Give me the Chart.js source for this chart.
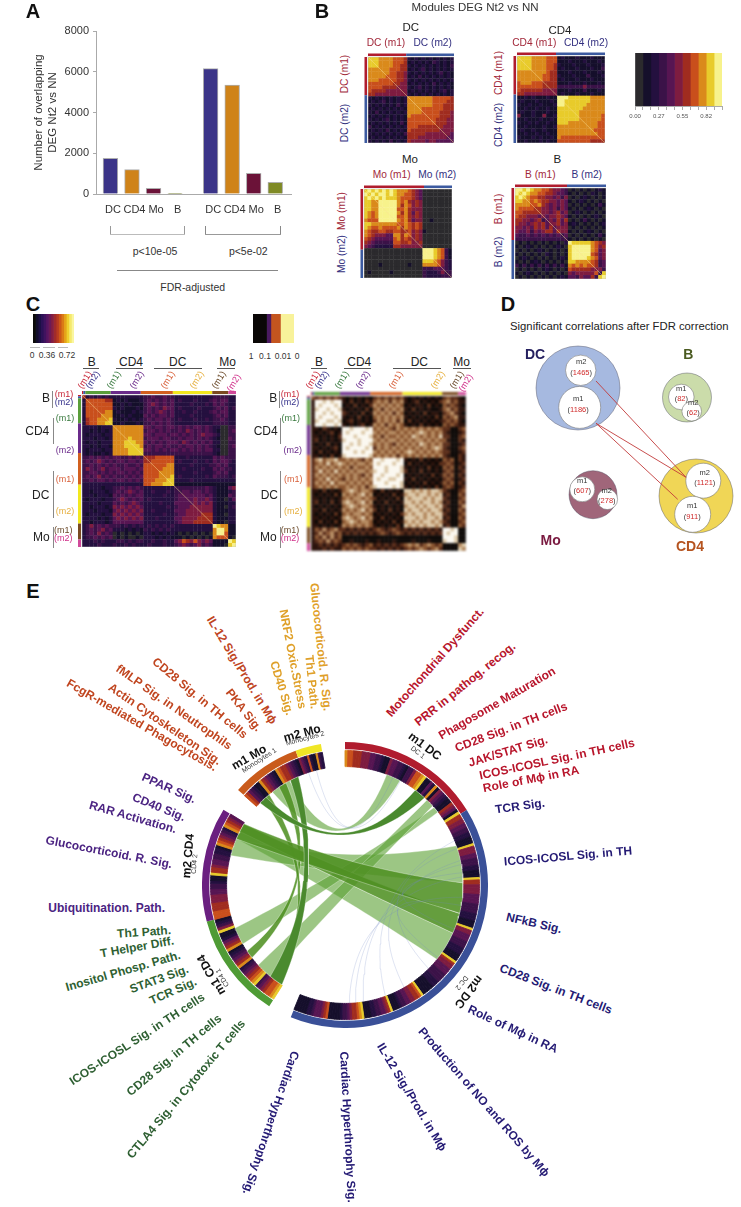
<!DOCTYPE html>
<html>
<head>
<meta charset="utf-8">
<title>Modules DEG Nt2 vs NN</title>
<style>
	html, body { margin: 0; background: #fff; }
	#page { position: relative; width: 741px; height: 1207px; overflow: hidden; font-family: "Liberation Sans", Arial, sans-serif; }
	#page canvas { position: absolute; }
	#page span { position: absolute; white-space: nowrap; transform-origin: center; line-height: 1; }
	#page i { position: absolute; display: block; }
</style>
</head>
<body>
<div id="page"></div>
<script src="https://cdn.jsdelivr.net/npm/chart.js@4.4.0/dist/chart.umd.js"></script>
<script>
// Panel A
const overlapLabels = ["DC", "CD4", "Mo", "B", "DC", "CD4", "Mo", "B"];
const overlapSlots = [0.67, 1.67, 2.67, 3.67, 5.32, 6.32, 7.32, 8.32];
const overlapValues = [1750, 1200, 280, 15, 6150, 5350, 1020, 570];
const overlapColors = ["#3b3488", "#cf8319", "#6b1238", "#7f8a25", "#3b3488", "#cf8319", "#6b1238", "#7f8a25"];

// heat palette, level 0-a
const inferno = ["#2b2a2d", "#150f2b", "#24103f", "#3b1248", "#571552", "#7e1c40", "#a02c1f", "#c94f1c", "#da8a1b", "#e8cb2b", "#f7f28c"];
const inkPalette = ["#0c0806", "#2c130c", "#5a2c18", "#8a5530", "#b58a60", "#dcc8a8", "#fbf8f0"];

// Panel B matrices, one char per cell
const dcRows = [
"99988887776 2121212121212","99988887776 1212121321212","99988887766 2121212121213","88888877766 1212312121212",
"88888877665 2121212123121","88888777665 1213121212121","88877777665 2121212121212","77777776655 1212121312121",
"77776666555 2123121212121","76666555555 1212121212312","66555555555 2121212121212",
"21212121212 8888888777776","12123121212 8888888777766","21212121312 8888888777666","12121212121 8888777777666",
"21312121212 8888777776665","12121212121 8777777776665","21212312121 7777777766655","12121212131 7777777766655",
"31212121212 7776666666555","12121312121 7666666665555","21212121213 6666655555554","12121212121 6665555555544","21212131212 6555545544444"];
const cd4Rows = [
"99998888777 1211121112111","99998888777 1112111211121","99998888776 2111211121112","99998888776 1211121112113",
"88888888766 1112111211121","88888887766 2111211131112","88888887766 1211121112111","78887776666 1112111211121",
"77777776666 3333333533333","76666665555 1112111311121","66555555555 1211121112111",
"11212111211 aaa9999998888","12111211121 aa99999998888","21121121112 aa99999988888","11211211211 9999999888888",
"12112111211 9999998888888","51112115112 9999998888887","11211121121 9999998888887","21121211211 9998888888877",
"11211112112 8888888888877","12112112111 8888888888777","11211211211 8888888888877","21112121121 8777777777777","11211121211 7777777776666"];
const moRows = [
"9a9a9a9a98887654 00000000","a9a9aa9a98877654 00000000","9a9a9a9998777654 00000000","9988aaaaa8786565 00000000",
"9988aaaaa8687565 00000000","9988aaaaa7786555 00000000","9878aaaaa8686465 00000000","9878aaaaa7786565 00000000",
"8777aaaaa8786455 00100000","9988888887787676 00000000","9877877778687676 00000000","8766776677667565 10000000",
"8765554488687565 00000000","7654444478676565 00000000","6543333377667556 00000000","5432222266555555 00000000",
"0000000000000000 aaa98731","0000000000000000 aaa98731","0000000000000000 aaa98731","0000000000000000 99987532",
"0000100000001000 88887532","0000000000000000 33344432","0100000100000000 32223533","0000000000000000 32222333"];
const bRows = [
"aa9a9887765543 0101010121","a9a98877665443 1010102101","9a987766554535 0101210101","99887876655454 1012101010",
"88887786545454 0101010131","87777665545354 1010121010","77666665545645 0121010101","76655545455654 1010101210",
"66554563454646 0101310101","65545656455645 1210101012","55454656464555 0101010101","54453545664655 1010121010",
"43343434343434 0101010131","33333333333333 1010101010",
"01010101010102 a999998765","10121010101210 9aaaaa8756","01010121010101 9aaaaa8745","10101010210101 9aaaaa7645",
"01210101010121 9aaaa98745","10101210101010 9988887634","31313131313131 8787877634","01010101210101 7666665553",
"10121010101010 5455555739","01010101010121 443544639a"];

// Panel C matrices
const allCellsRows = [
"6 2323232 22222222 33433433 2222222222 3333 22",
"2 7777766 12121112 34343434 2322232223 4344 22","2 7777777 11212111 34543434 2222322232 4343 22",
"2 7777777 21211121 34343544 2322223222 3434 23","2 7777788 12111212 34345434 2232232223 4344 22",
"2 7777888 11212111 43434434 2222322222 3434 22","2 6778889 21121212 34344343 2322232232 3343 22",
"2 6778899 11211121 33434343 2222222222 3333 22",
"2 2221222 88888888 44344344 3434344343 2200 33","2 2121212 88888888 34434343 3435434343 2100 34",
"2 1222122 88888888 44344434 4343434544 3200 33","2 2212212 88889888 34443443 3434434343 2100 43",
"2 1221222 88899988 43434344 4354343434 2200 33","2 2121221 88899998 34344343 3434434343 2100 34",
"2 1222122 88889999 44343434 4343434344 2200 33","2 1211212 88889999 33333333 3333333333 2100 33",
"3 3434343 44334343 66677777 2223222222 4343 33","3 4345434 34434434 66777777 2322232232 4344 32",
"3 3434343 43343343 77777788 2222322223 3434 22","3 5434534 44344434 77777888 2232222322 4343 32",
"3 3443434 34434343 77778888 2222232222 3434 22","3 4345343 43343434 77778889 2322222232 4333 23",
"3 3434434 34434343 77788899 2222322222 2222 22","2 2222222 22222222 77888999 1111111111 1111 11",
"2 2222122 33434343 22222222 3333333343 2111 45","2 2122212 34345434 22322232 3344344343 2111 23",
"2 2212221 43434344 22222322 3444444434 2111 43","2 1222122 34543434 23222222 3444454454 2110 24",
"2 2221222 43434543 22223222 4444454545 2111 22","2 2122212 54545454 22222232 3444555555 2110 23",
"2 2212221 45454545 22322222 4445555555 2111 22","2 1222122 54545454 22222322 3445555666 2110 22",
"2 2221212 45454545 22232222 4455556666 2111 22","2 2122212 44444444 22222222 3455566666 2110 22",
"2 3534343 33232323 23232323 2222222222 a988 11","2 3434534 22212121 32323232 2222222222 8aa8 11",
"2 3435343 01010101 22121212 1010101010 8aa7 11","2 3343434 01010010 22212121 1101010101 8777 10",
"2 2232322 23323233 22322322 4576575454 1111 a9","2 2223222 32232322 23222322 3454345343 1110 9a"];
const pValueRows = [
"3 2323232 10101010 23232323 1010101010 2322 10",
"1 6656566 10201021 34342434 1012010102 3423 11","1 6566656 01020102 43434343 0101102010 3232 10",
"1 5665665 10101020 34243434 1020101001 3423 11","1 6656566 21010201 43434243 0101020110 2342 10",
"1 6566656 10102010 34343434 1010101020 3234 11","1 5665565 01201010 24343424 0201010101 2323 10",
"1 6656656 10101201 43424343 1010201010 3232 11",
"1 1021010 66566656 34343243 4343434343 2200 23","1 0101201 65666566 43434434 3434543434 2100 12",
"1 1010102 66656665 34243343 4354343435 2200 23","1 2010101 56665666 43434434 3434434343 3100 21",
"1 0102010 66565665 34343243 4343543434 2200 12","1 1010120 65666656 24343434 3434343454 2100 23",
"1 0201010 66656566 43434343 4543434343 2200 12","1 1010201 56666665 34343424 3434343434 2100 21",
"2 4534453 34343243 66566656 1010201010 3230 21","2 3435345 43434434 65666566 0201010102 2320 12",
"2 4343434 34243343 66656665 1010102010 3230 21","2 3534353 43434434 56656665 2010201010 2320 12",
"2 4343434 34343243 66566656 0101010201 3230 21","2 3435343 24343434 65665566 1020101010 2320 12",
"2 4343534 43434343 66656665 0101020101 3230 21","2 3434343 34343424 56666565 1010101020 2320 12",
"1 1020101 34543443 10201010 5545454554 2100 23","1 0101020 43434534 01010201 4554554545 1200 32",
"1 1010101 34344343 20101020 5455545455 2100 23","1 2010201 45434534 01020101 5545455454 1200 32",
"1 0101010 34543443 10101010 4554545545 2100 24","1 1020101 43434534 20102010 5455454554 1200 32",
"1 0101020 34344343 01010102 4545545455 2100 23","1 1010101 45434534 10201010 5554545545 1200 32",
"1 0201020 34543443 01010201 4545455454 2100 23","1 1010101 43434343 10101020 5454545545 1200 32",
"1 3242342 21212121 23212321 2121212121 6656 00","1 2423423 12121212 12321232 1212121212 6566 00",
"1 3242423 00000000 00000000 0000000000 6665 00","1 2324232 00100010 01000100 0010001000 5665 00",
"1 1212121 23232123 12121212 3434234323 0000 45","1 1121211 32323232 21212121 2323432342 0000 54"];
const allCellsSizes = [4, 6, 76, 90, 96, 118, 48, 23];
const allCellsColors = ["#c8202c", "#3a5aa8", "#5a9e3a", "#6a2a8a", "#d2601f", "#f2e81e", "#7a4a20", "#d04a9a"];
const pairColors = ["#b01c2e", "#3c5aa0"];

// colour keys
const keyLevels = [0, 1, 2, 3, 4, 5, 6, 7, 8, 9, 10];
const keyTickLabels = ["0.00", "", "", "0.27", "", "", "0.55", "", "", "0.82", "", ""];
const wideKeyColors = ["#0b0a0a", "#120d2b", "#1c0f45", "#2c1156", "#40135f", "#571561", "#6c1a55", "#861f40", "#a02b2b", "#b83b1f", "#cc5619", "#da7a16", "#e5a41a", "#eecf2e", "#f5e96c", "#faf6a0"];
const pKeySizes = [41, 13, 29, 41];
const pKeyColors = ["#0a0706", "#4a1a60", "#c4551f", "#f8f29a"];

// Panel D
const cellGroupX = [578, 687, 593, 696];
const cellGroupY = [388, 397.5, 494.7, 496];
const cellGroupR = [42, 24.5, 24, 37];
const cellGroupColors = ["#a6b9e0", "#cbdcaa", "#a0667a", "#f0d656"];
const moduleX = [580.7, 579.7, 681.3, 691.7, 582.3, 607.3, 703.3, 692.7];
const moduleY = [370.3, 407.4, 397, 411.3, 489.3, 499.3, 480.7, 514.3];
const moduleR = [15.2, 21, 12.8, 9.8, 12.5, 10.3, 17.5, 18];
const moduleNames = ["m2", "m1", "m1", "m2", "m1", "m2", "m2", "m1"];
const moduleCounts = ["1465", "1186", "82", "62", "607", "278", "1121", "911"];
const linkStarts = [[596, 381], [596, 423.3], [596, 423.3]];
const linkEnds = [[686, 477.3], [686, 477.3], [677.7, 499.3]];

// Panel E, angles in degrees clockwise from top
const ringArcs = [58.4, 143.9, 9.7, 43.2, 46.6, 9.8, 28.2, 10.5, 9.7];
const ringColors = ["#b01c2e", "#3a5098", "transparent", "#4f9b35", "#6a1f80", "transparent", "#c95b1c", "#f0e626", "transparent"];
const ringHeat = [
	"8776665554433211" + "5443321" + "3357789" + "114281" + "543211" + "65419",
	"66554433221119" + "55544333221119" + "665555444433332221119" + "554443332221119" + "6554443333222111119" + "7665544332111" + "965443322111" + "987665433211111" + "76544432211111",
	"",
	"98776543" + "98765432" + "8654321" + "8654211" + "95321",
	"7776665554433211" + "9" + "6654433221" + "8" + "765432" + "87654",
	"",
	"7643211" + "8654321" + "876654321",
	"5432" + "7211" + "832",
	""
];
const ribbonFrom = [[20.7, 27.8], [36.5, 42.4], [44, 48], [49, 52], [70.6, 89], [89, 103.8], [104, 114], [114, 129], [212.3, 219.3], [214, 218], [232, 236]];
const ribbonTo = [[322, 332], [314, 318], [219.3, 227.3], [240, 248.6], [284.5, 293], [293, 301.2], [297, 301], [293, 297], [332.4, 336.7], [316, 320], [326, 330]];
const ribbonTones = ["light", "dark", "light", "light", "light", "mid", "mid", "light", "dark", "mid", "mid"];
const threadFrom = [342, 346, 171, 175, 150, 135, 160, 178, 128, 84];
const threadTo = [28, 24, 78, 86, 80, 72, 68, 96, 100, 112];

Chart.defaults.font.family = '"Liberation Sans", Arial, sans-serif';
Chart.defaults.animation = false;
Chart.defaults.responsive = false;
Chart.defaults.events = [];
Chart.defaults.plugins.legend.display = false;
Chart.defaults.plugins.tooltip.enabled = false;

let page = document.getElementById("page");

function addCanvas(x, y, w, h, blur) {
	let c = document.createElement("canvas");
	c.width = w;
	c.height = h;
	c.style.left = x + "px";
	c.style.top = y + "px";
	c.style.width = w + "px";
	c.style.height = h + "px";
	if (blur) c.style.filter = "blur(" + blur + "px)";
	page.appendChild(c);
	return c.getContext("2d");
}

function addText(text, x, y, size, color, rot, bold) {
	let s = document.createElement("span");
	s.textContent = text;
	s.style.left = x + "px";
	s.style.top = y + "px";
	s.style.fontSize = size + "px";
	s.style.color = color;
	s.style.transform = "translate(-50%,-50%) rotate(" + (rot || 0) + "deg)";
	if (bold) s.style.fontWeight = "bold";
	page.appendChild(s);
	return s;
}

function addRule(x1, y1, x2, y2, color) {
	let d = document.createElement("i");
	d.style.left = x1 + "px";
	d.style.top = y1 + "px";
	d.style.width = Math.max(x2 - x1, 1) + "px";
	d.style.height = Math.max(y2 - y1, 1) + "px";
	d.style.background = color;
	page.appendChild(d);
}

// Heatmap from level rows, with the module strips along top and left
function heatmap(rows, palette, x, y, w, h, sizes, stripColors, stripWidth, withDiagonal, blur) {
	let cells = rows.map((r) => r.replace(/ /g, ""));
	let n = cells.length;
	let points = [];
	let colors = [];
	cells.forEach((row, r) => {
		for (let c = 0; c < row.length; c++) {
			points.push({x: c + 0.5, y: r + 0.5});
			colors.push(palette[parseInt(row[c], 16)]);
		}
	});
	let total = sizes.reduce((a, b) => a + b, 0);
	let strips = {
		id: "strips",
		afterDraw(chart) {
			let ctx = chart.ctx;
			let area = chart.chartArea;
			let run = 0;
			sizes.forEach((size, i) => {
				let x0 = chart.scales.x.getPixelForValue(n * run / total);
				let x1 = chart.scales.x.getPixelForValue(n * (run + size) / total);
				let y0 = chart.scales.y.getPixelForValue(n * run / total);
				let y1 = chart.scales.y.getPixelForValue(n * (run + size) / total);
				ctx.fillStyle = stripColors[i];
				ctx.fillRect(x0, area.top - 1 - stripWidth, x1 - x0, stripWidth);
				ctx.fillRect(area.left - 1 - stripWidth, y0, stripWidth, y1 - y0);
				run += size;
			});
			ctx.strokeStyle = "rgba(190,190,190,.8)";
			ctx.lineWidth = 0.7;
			ctx.strokeRect(area.left, area.top, area.right - area.left, area.bottom - area.top);
		}
	};
	let cellPx = Math.max(w, h) / n;
	let datasets = [{
		data: points,
		pointStyle: "rect",
		pointRadius: cellPx / Math.SQRT2 + 0.25,
		pointBackgroundColor: colors,
		pointBorderWidth: 0,
		order: 2
	}];
	if (withDiagonal) {
		datasets.push({
			data: [{x: 0, y: 0}, {x: n, y: n}],
			showLine: true,
			pointRadius: 0,
			borderColor: "rgba(250,225,150,.6)",
			borderWidth: 0.8,
			order: 1
		});
	}
	return new Chart(addCanvas(x - 4, y - 4, w + 4, h + 4, blur), {
		type: "scatter",
		data: {datasets: datasets},
		options: {
			layout: {autoPadding: false, padding: {left: 4, top: 4}},
			scales: {
				x: {display: false, min: 0, max: n},
				y: {display: false, min: 0, max: n, reverse: true}
			}
		},
		plugins: [strips]
	});
}

// Colour key as one stacked bar
function colorKey(x, y, w, h, sizes, colors, tickLabels) {
	let total = sizes.reduce((a, b) => a + b, 0);
	let margin = tickLabels ? 12 : 0;
	return new Chart(addCanvas(x - margin, y, w + margin * 2, tickLabels ? h + 20 : h), {
		type: "bar",
		data: {
			labels: [""],
			datasets: sizes.map((v, i) => ({data: [v], backgroundColor: colors[i], barPercentage: 1, categoryPercentage: 1, borderWidth: 0}))
		},
		options: {
			indexAxis: "y",
			layout: {padding: {left: margin, right: margin}},
			scales: {
				y: {display: false, stacked: true},
				x: {
					display: !!tickLabels,
					stacked: true,
					min: 0,
					max: total,
					border: {color: "#aaa"},
					grid: {drawOnChartArea: false, tickLength: 4, color: "#aaa"},
					ticks: {
						stepSize: 1,
						autoSkip: false,
						maxRotation: 0,
						padding: 3,
						color: "#555",
						font: {size: 6},
						callback: (v, i) => tickLabels ? tickLabels[i] : ""
					},
					afterFit(scale) { if (tickLabels) scale.height = 20; }
				}
			}
		}
	});
}

// Panel A
new Chart(addCanvas(0, 0, 300, 222), {
	type: "bar",
	data: {datasets: [{
		data: overlapValues.map((v, i) => ({x: overlapSlots[i], y: v})),
		backgroundColor: overlapColors,
		borderColor: "rgba(165,165,165,.9)",
		borderWidth: 1,
		barThickness: 14.7
	}]},
	options: {
		layout: {padding: {left: 32, right: 9, top: 31}},
		scales: {
			x: {
				type: "linear",
				offset: false,
				min: 0,
				max: 9.05,
				grid: {display: false},
				border: {color: "#aaa"},
				afterBuildTicks(scale) { scale.ticks = overlapSlots.map((v) => ({value: v})); },
				ticks: {
					autoSkip: false,
					maxRotation: 0,
					padding: 1,
					labelOffset: 2.5,
					color: "#333",
					font: {size: 11},
					callback: (v, i) => overlapLabels[i]
				},
				afterFit(scale) { scale.height = 28; }
			},
			y: {
				min: 0,
				max: 8000,
				grid: {drawOnChartArea: false, tickLength: 3, color: "#aaa"},
				border: {color: "#aaa"},
				title: {display: true, text: ["Number of overlapping", "DEG Nt2 vs NN"], color: "#333", font: {size: 11.5, lineHeight: 1.2}, padding: 0},
				ticks: {stepSize: 2000, padding: 4, color: "#333", font: {size: 11}, callback: (v) => String(v)},
				afterFit(scale) { scale.width = 64; }
			}
		}
	}
});
addRule(109.5, 226, 110.5, 234, "#999");
addRule(184, 226, 185, 234, "#999");
addRule(110, 234, 185, 235, "#bbb");
addRule(205, 226, 206, 234, "#888");
addRule(280, 226, 281, 234, "#888");
addRule(205, 233.5, 281, 234.5, "#999");
addRule(117, 270, 278, 271, "#888");
addText("p<10e-05", 155, 250.7, 10.5, "#333");
addText("p<5e-02", 248.3, 250.7, 10.5, "#333");
addText("FDR-adjusted", 192.7, 287.3, 10.5, "#333");

// Panel letters
addText("A", 33, 11, 20, "#111", 0, true);
addText("B", 322, 11, 20, "#111", 0, true);
addText("C", 33, 304, 20, "#111", 0, true);
addText("D", 508, 304, 20, "#111", 0, true);
addText("E", 33, 591, 20, "#111", 0, true);

// Panel B
heatmap(dcRows, inferno, 368, 57, 86, 86, [115, 144], pairColors, 2.5, true, 0.55);
heatmap(cd4Rows, inferno, 517, 56, 88, 87, [117, 147], pairColors, 2.5, true, 0.55);
heatmap(moRows, inferno, 364, 189, 88, 89, [180, 84], pairColors, 2.5, true, 0.55);
heatmap(bRows, inferno, 515, 188, 91, 91, [156, 117], pairColors, 2.5, true, 0.55);
colorKey(635, 53, 87, 53, keyLevels.map(() => 1), inferno, keyTickLabels);

const wine = "#a2283a";
const indigo = "#333080";
addText("Modules DEG Nt2 vs NN", 475, 7.5, 11.5, "#333");
addText("DC", 410.7, 28, 11.5, "#222");
addText("DC (m1)", 386, 43.3, 10.2, wine);
addText("DC (m2)", 432.7, 43.3, 10.2, indigo);
addText("DC (m1)", 344.7, 74, 10.2, wine, -90);
addText("DC (m2)", 344.7, 122.7, 10.2, indigo, -90);
addText("CD4", 560, 31, 11.5, "#222");
addText("CD4 (m1)", 534.3, 43.3, 10.2, wine);
addText("CD4 (m2)", 586, 43.3, 10.2, indigo);
addText("CD4 (m1)", 499, 73, 10.2, wine, -90);
addText("CD4 (m2)", 499, 125, 10.2, indigo, -90);
addText("Mo", 410, 160.3, 11.5, "#222");
addText("Mo (m1)", 391.7, 175.3, 10.2, wine);
addText("Mo (m2)", 437.3, 175.3, 10.2, indigo);
addText("Mo (m1)", 341.7, 210.7, 10.2, wine, -90);
addText("Mo (m2)", 341.7, 254, 10.2, indigo, -90);
addText("B", 557.3, 160, 11.5, "#222");
addText("B (m1)", 540.3, 175.3, 10.2, wine);
addText("B (m2)", 586.7, 175.3, 10.2, indigo);
addText("B (m1)", 499, 209.3, 10.2, wine, -90);
addText("B (m2)", 499, 251.7, 10.2, indigo, -90);

// Panel C
heatmap(allCellsRows, inferno, 82, 395, 154, 152, allCellsSizes, allCellsColors, 3, true, 0.55);
heatmap(pValueRows, inkPalette, 311, 396, 155, 155, allCellsSizes, allCellsColors, 3, false, 0.9);
colorKey(33, 314, 41, 29, wideKeyColors.map(() => 1), wideKeyColors);
colorKey(253, 314, 41, 29, pKeySizes, pKeyColors);
addRule(30, 347, 40, 348, "#bbb");
addRule(43, 347, 55, 348, "#bbb");
addRule(58, 347, 68, 348, "#bbb");
addText("0", 32, 355, 8.5, "#333");
addText("0.36", 47, 355, 8.5, "#333");
addText("0.72", 67, 355, 8.5, "#333");
addText("1", 251, 356, 8.5, "#333");
addText("0.1", 265, 356, 8.5, "#333");
addText("0.01", 283, 356, 8.5, "#333");
addText("0", 297, 356, 8.5, "#333");

const red = "#c8283a", navy = "#34308a", green = "#3a7a3f", violet = "#6a2a8a", rust = "#d8603a", gold = "#e6b040", brown = "#6b4a2a", pink = "#d0308a";
function panelCLabels(groupX, ruleSpans, topX, sideX, sideRule, sideName) {
	["B", "CD4", "DC", "Mo"].forEach((g, i) => {
		addText(g, groupX[i], 361.7, 12, "#222");
		addRule(ruleSpans[i][0], 368, ruleSpans[i][1], 369, "#555");
	});
	[red, navy, green, violet, rust, gold, brown, pink].forEach((c, i) => {
		addText(i % 2 ? "(m2)" : "(m1)", topX[i], i == 7 ? 383 : 380, 9, c, -58);
	});
	let sideY = [394, 402.3, 417.7, 449.7, 479.3, 510.7, 530.3, 538.3];
	[red, navy, green, violet, rust, gold, brown, pink].forEach((c, i) => {
		addText(i % 2 ? "(m2)" : "(m1)", sideX[i], sideY[i], 9, c);
	});
	addText("B", sideName[0], 398.3, 12, "#222");
	addText("CD4", sideName[1], 431, 12, "#222");
	addText("DC", sideName[2], 495, 12, "#222");
	addText("Mo", sideName[3], 536.7, 12, "#222");
	addRule(sideRule, 391, sideRule + 1, 408, "#888");
	addRule(sideRule + 1, 418, sideRule + 2, 444, "#888");
	addRule(sideRule + 1, 471, sideRule + 2, 518, "#888");
	addRule(sideRule + 1, 527, sideRule + 2, 548, "#888");
}
panelCLabels([91.7, 131, 177.7, 227.7], [[82.7, 99], [115.7, 143.3], [154.3, 202], [216.7, 235.3]],
	[85, 93.3, 114, 136.7, 168.3, 197.3, 219, 234.3], [64, 64, 65, 65, 65, 65, 63.3, 63.3], 51.5, [46, 37.3, 40.7, 41.3]);
panelCLabels([319, 359.3, 419.3, 461.7], [[310.7, 326.7], [344, 371.3], [393.3, 440.7], [453.3, 470.7]],
	[312.7, 321.7, 341.7, 363.3, 395.7, 438.3, 457.3, 466], [290, 290, 290.7, 292.7, 293.3, 293.3, 290, 290], 278.5, [273.3, 265.7, 269.3, 268.3]);

// Panel D
const linkData = linkStarts.map((p, i) => ({
	type: "line",
	data: [{x: p[0], y: p[1]}, {x: linkEnds[i][0], y: linkEnds[i][1]}],
	borderColor: "#c23a3a",
	borderWidth: 0.9,
	pointRadius: 0,
	order: 0
}));
new Chart(addCanvas(490, 340, 251, 225), {
	type: "bubble",
	data: {datasets: [
		{
			data: moduleX.map((x, i) => ({x: x, y: moduleY[i], r: moduleR[i]})),
			backgroundColor: "#fff",
			borderColor: "#777",
			borderWidth: 0.6,
			order: 1
		},
		{
			data: cellGroupX.map((x, i) => ({x: x, y: cellGroupY[i], r: cellGroupR[i]})),
			backgroundColor: cellGroupColors,
			borderColor: "rgba(70,70,90,.7)",
			borderWidth: 0.6,
			order: 2
		}
	].concat(linkData)},
	options: {
		layout: {autoPadding: false},
		scales: {
			x: {type: "linear", display: false, min: 490, max: 741},
			y: {type: "linear", display: false, min: 340, max: 565, reverse: true}
		}
	}
});
addText("Significant correlations after FDR correction", 619.3, 327.3, 11.3, "#222");
addText("DC", 535, 354, 14, "#25205f", 0, true);
addText("B", 688.3, 354, 14, "#4a5a20", 0, true);
addText("Mo", 550.7, 540, 14, "#7a1a40", 0, true);
addText("CD4", 690, 545.7, 14, "#b5531f", 0, true);
moduleNames.forEach((name, i) => {
	let offsetX = [0.5, -1.5, 0, 1.5, 0, -0.5, 1.5, -0.5][i];
	addText(name, moduleX[i] + offsetX, moduleY[i] - 8 + (moduleR[i] < 14 ? -0.5 : 0), 7.5, "#333");
	let s = addText("", moduleX[i] + offsetX, moduleY[i] + 2.5 + (moduleR[i] < 14 ? -0.5 : 0), 7.5, "#333");
	s.innerHTML = '(<b style="font-weight:normal;color:#d02a2a">' + moduleCounts[i] + "</b>)";
});

// Panel E ring
let heatArcs = [];
let heatColors = [];
ringArcs.forEach((arc, i) => {
	let levels = ringHeat[i];
	if (!levels.length) {
		heatArcs.push(arc);
		heatColors.push("transparent");
		return;
	}
	for (let ch of levels) {
		heatArcs.push(arc / levels.length);
		heatColors.push(inferno[parseInt(ch, 16)]);
	}
});
new Chart(addCanvas(202, 742, 286, 286, 0.3), {
	type: "doughnut",
	data: {datasets: [
		{data: ringArcs, backgroundColor: ringColors, borderWidth: 0, hoverOffset: 0, weight: 7.3},
		{data: [360], backgroundColor: "transparent", borderWidth: 0, hoverOffset: 0, weight: 1.2},
		{data: heatArcs, backgroundColor: heatColors, borderColor: heatColors, borderWidth: 0.9, hoverOffset: 0, weight: 16.3}
	]},
	options: {cutout: "82.8%"}
});

// Panel E chords: curves pulled toward the centre, less so for far apart ends
function ringPoint(deg, r) {
	let t = deg * Math.PI / 180;
	return {x: r * Math.sin(t), y: r * Math.cos(t)};
}
function curve(a, b, r, out) {
	let p = ringPoint(a, r), q = ringPoint(b, r);
	let sep = Math.abs(a - b) % 360;
	if (sep > 180) sep = 360 - sep;
	let k = 0.75 * (sep / 180) * (sep / 180);
	let cx = k * (p.x + q.x) / 2, cy = k * (p.y + q.y) / 2;
	for (let i = 0; i <= 30; i++) {
		let t = i / 30;
		out.push({
			x: (1 - t) * (1 - t) * p.x + 2 * t * (1 - t) * cx + t * t * q.x,
			y: (1 - t) * (1 - t) * p.y + 2 * t * (1 - t) * cy + t * t * q.y
		});
	}
}
function arcPath(a, b, r, out) {
	for (let i = 0; i <= 8; i++) out.push(ringPoint(a + (b - a) * i / 8, r));
}
const toneFill = {light: "rgba(90,160,50,.6)", mid: "rgba(80,145,35,.88)", dark: "#4a8a2e"};
const toneOrder = {light: 3, mid: 2, dark: 1};
let chordSets = threadFrom.map((a, i) => {
	let path = [];
	curve(a, threadTo[i], 118, path);
	return {data: path, showLine: true, fill: false, pointRadius: 0, borderColor: "rgba(110,135,195,.38)", borderWidth: 0.6, order: 0};
});
ribbonFrom.forEach((from, i) => {
	let to = ribbonTo[i];
	let path = [];
	arcPath(from[0], from[1], 118, path);
	curve(from[1], to[0], 118, path);
	arcPath(to[0], to[1], 118, path);
	curve(to[1], from[0], 118, path);
	chordSets.push({
		data: path,
		showLine: true,
		fill: "shape",
		backgroundColor: toneFill[ribbonTones[i]],
		borderColor: "rgba(255,255,255,.55)",
		borderWidth: 0.6,
		pointRadius: 0,
		order: toneOrder[ribbonTones[i]]
	});
});
new Chart(addCanvas(202, 742, 286, 286), {
	type: "scatter",
	data: {datasets: chordSets},
	options: {
		layout: {autoPadding: false},
		scales: {
			x: {display: false, min: -143, max: 143},
			y: {display: false, min: -143, max: 143}
		}
	}
});

// Panel E labels
const ember = "#c0451f", amber = "#dfa029", plum = "#4b2382", forest = "#2e5f32", crimson = "#b8152b", ink = "#241a74";
addText("IL-12 Sig./Prod. in Mϕ", 241.7, 670, 12, ember, 58.8, true);
addText("CD28 Sig. in TH cells", 200, 698.3, 12, ember, 39.6, true);
addText("PKA Sig.", 244, 710, 12, ember, 51.6, true);
addText("fMLP Sig. in Neutrophils", 174, 706.7, 12, ember, 35, true);
addText("Actin Cytoskeleton Sig.", 165, 724, 12, ember, 34.6, true);
addText("FcgR-mediated Phagocytosis.", 142.3, 725, 12, ember, 30, true);
addText("Glucocorticoid. R. Sig.", 321, 647.3, 12, amber, 84, true);
addText("Th1 Path.", 311.5, 682.3, 12, amber, 84, true);
addText("NRF2 Oxic.Stress", 292.7, 659.3, 12, amber, 79, true);
addText("CD40 Sig.", 281.7, 688.3, 12, amber, 73, true);
addText("PPAR Sig.", 168.7, 788.3, 12, plum, 24, true);
addText("CD40 Sig.", 158.7, 807.3, 12, plum, 22, true);
addText("RAR Activation.", 133.3, 817.3, 12, plum, 16, true);
addText("Glucocorticoid. R. Sig.", 109.3, 851.7, 12, plum, 11, true);
addText("Ubiquitination. Path.", 106.7, 907.7, 12, plum, 0, true);
addText("Th1 Path.", 144, 931.7, 12, forest, -4, true);
addText("T Helper Diff.", 136.7, 946.7, 12, forest, -10, true);
addText("Inositol Phosp. Path.", 123.3, 970.7, 12, forest, -16, true);
addText("STAT3 Sig.", 159.3, 979, 12, forest, -20, true);
addText("TCR Sig.", 173, 990.7, 12, forest, -24, true);
addText("ICOS-ICOSL Sig. in TH cells", 137.3, 1038.7, 12, forest, -33, true);
addText("CD28 Sig. in TH cells", 174, 1055, 12, forest, -40, true);
addText("CTLA4 Sig. in Cytotoxic T cells", 185.7, 1089.3, 12, forest, -50, true);
addText("Motochondrial Dysfunct.", 435, 661.7, 12, crimson, -48.6, true);
addText("PRR in pathog. recog.", 464.7, 684, 12, crimson, -39, true);
addText("Phagosome Maturation", 496.7, 703.3, 12, crimson, -30, true);
addText("CD28 Sig. in TH cells", 510.7, 727.3, 12, crimson, -21, true);
addText("JAK/STAT Sig.", 508.3, 750.7, 12, crimson, -17, true);
addText("ICOS-ICOSL Sig. in TH cells", 557, 759.3, 12, crimson, -12, true);
addText("Role of Mϕ in RA", 530.7, 779.3, 12, crimson, -11, true);
addText("TCR Sig.", 520, 805.7, 12, ink, -8, true);
addText("ICOS-ICOSL Sig. in TH", 568, 856, 12, ink, -5, true);
addText("NFkB Sig.", 534.3, 923.3, 12, ink, 13, true);
addText("CD28 Sig. in TH cells", 556, 988.7, 12, ink, 21, true);
addText("Role of Mϕ in RA", 512.7, 1028.7, 12, ink, 25, true);
addText("Production of NO and ROS by Mϕ", 484, 1102, 12, ink, 49, true);
addText("IL-12 Sig./Prod. in Mϕ", 412.3, 1096.7, 12, ink, 59, true);
addText("Cardiac Hyperthrophy Sig.", 348.3, 1127.3, 12, ink, 87, true);
addText("Cardiac Hyperthrophy Sig.", 270.7, 1123.3, 12, ink, 109, true);

addText("m1 Mo", 249.3, 756.7, 12, "#111", -30, true);
addText("Monocytes 1", 259.3, 760.3, 7, "#333", -33);
addText("m2 Mo", 301.7, 732.7, 12, "#111", -15, true);
addText("Monocytes 2", 305.3, 738.3, 7, "#333", -15);
addText("m1 DC", 425, 745.7, 12, "#111", 37, true);
addText("DC 1", 417.7, 751.7, 7, "#333", 37);
addText("m2 DC", 469, 991.7, 12, "#111", 128, true);
addText("DC 2", 461.7, 983.3, 7, "#333", 128);
addText("m2 CD4", 188.3, 856, 12, "#111", -85, true);
addText("CD4 2", 193.5, 864, 7, "#333", -85);
addText("m1 CD4", 210.7, 975, 12, "#111", -120, true);
addText("CD4 1", 222, 978, 7, "#333", -120);
</script>
</body>
</html>
